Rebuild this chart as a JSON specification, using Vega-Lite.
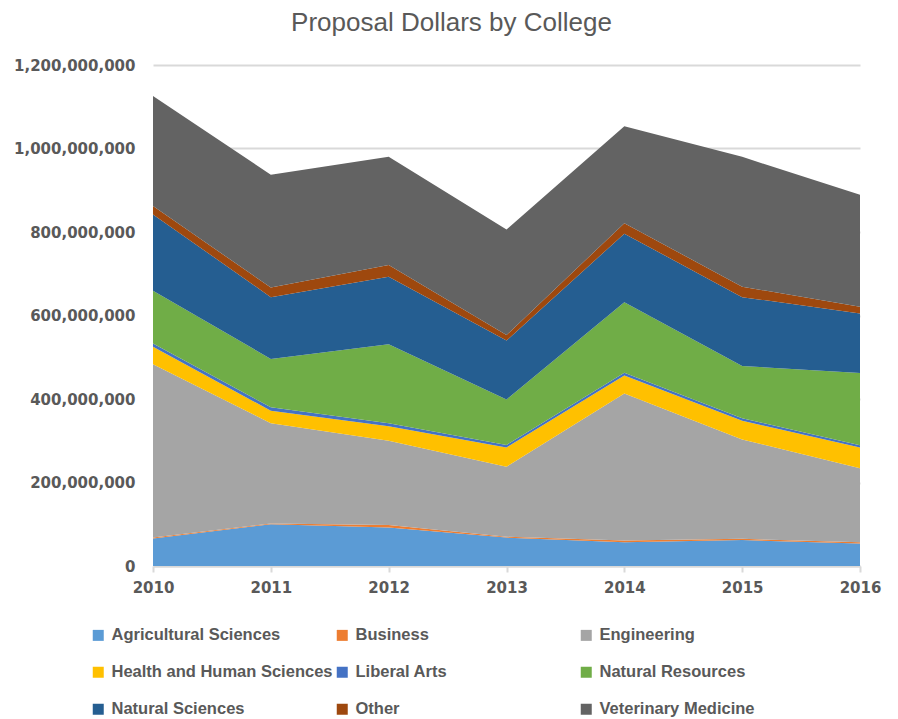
{
  "$schema": "https://vega.github.io/schema/vega-lite/v6.json",
  "width": 707,
  "height": 501,
  "autosize": "none",
  "padding": {"left": 153, "top": 65, "right": 38, "bottom": 153},
  "background": "white",
  "title": {
    "text": "Proposal Dollars by College",
    "font": "Liberation Sans",
    "fontSize": 26,
    "fontWeight": "normal",
    "color": "#595959",
    "offset": 22,
    "dx": -55
  },
  "config": {
    "view": {"stroke": null},
    "font": "Liberation Sans"
  },
  "data": {
    "values": [
      {"year": "2010", "college": "Agricultural Sciences", "dollars": 66000000},
      {"year": "2010", "college": "Business", "dollars": 2000000},
      {"year": "2010", "college": "Engineering", "dollars": 415000000},
      {"year": "2010", "college": "Health and Human Sciences", "dollars": 42000000},
      {"year": "2010", "college": "Liberal Arts", "dollars": 8000000},
      {"year": "2010", "college": "Natural Resources", "dollars": 126000000},
      {"year": "2010", "college": "Natural Sciences", "dollars": 183000000},
      {"year": "2010", "college": "Other", "dollars": 20000000},
      {"year": "2010", "college": "Veterinary Medicine", "dollars": 264000000},
      {"year": "2011", "college": "Agricultural Sciences", "dollars": 100000000},
      {"year": "2011", "college": "Business", "dollars": 2000000},
      {"year": "2011", "college": "Engineering", "dollars": 240000000},
      {"year": "2011", "college": "Health and Human Sciences", "dollars": 30000000},
      {"year": "2011", "college": "Liberal Arts", "dollars": 8000000},
      {"year": "2011", "college": "Natural Resources", "dollars": 116000000},
      {"year": "2011", "college": "Natural Sciences", "dollars": 148000000},
      {"year": "2011", "college": "Other", "dollars": 23000000},
      {"year": "2011", "college": "Veterinary Medicine", "dollars": 270000000},
      {"year": "2012", "college": "Agricultural Sciences", "dollars": 92000000},
      {"year": "2012", "college": "Business", "dollars": 6000000},
      {"year": "2012", "college": "Engineering", "dollars": 202000000},
      {"year": "2012", "college": "Health and Human Sciences", "dollars": 35000000},
      {"year": "2012", "college": "Liberal Arts", "dollars": 7000000},
      {"year": "2012", "college": "Natural Resources", "dollars": 189000000},
      {"year": "2012", "college": "Natural Sciences", "dollars": 162000000},
      {"year": "2012", "college": "Other", "dollars": 28000000},
      {"year": "2012", "college": "Veterinary Medicine", "dollars": 259000000},
      {"year": "2013", "college": "Agricultural Sciences", "dollars": 68000000},
      {"year": "2013", "college": "Business", "dollars": 2000000},
      {"year": "2013", "college": "Engineering", "dollars": 168000000},
      {"year": "2013", "college": "Health and Human Sciences", "dollars": 46000000},
      {"year": "2013", "college": "Liberal Arts", "dollars": 6000000},
      {"year": "2013", "college": "Natural Resources", "dollars": 109000000},
      {"year": "2013", "college": "Natural Sciences", "dollars": 141000000},
      {"year": "2013", "college": "Other", "dollars": 13000000},
      {"year": "2013", "college": "Veterinary Medicine", "dollars": 253000000},
      {"year": "2014", "college": "Agricultural Sciences", "dollars": 57000000},
      {"year": "2014", "college": "Business", "dollars": 4000000},
      {"year": "2014", "college": "Engineering", "dollars": 352000000},
      {"year": "2014", "college": "Health and Human Sciences", "dollars": 43000000},
      {"year": "2014", "college": "Liberal Arts", "dollars": 7000000},
      {"year": "2014", "college": "Natural Resources", "dollars": 169000000},
      {"year": "2014", "college": "Natural Sciences", "dollars": 164000000},
      {"year": "2014", "college": "Other", "dollars": 25000000},
      {"year": "2014", "college": "Veterinary Medicine", "dollars": 232000000},
      {"year": "2015", "college": "Agricultural Sciences", "dollars": 62000000},
      {"year": "2015", "college": "Business", "dollars": 3000000},
      {"year": "2015", "college": "Engineering", "dollars": 238000000},
      {"year": "2015", "college": "Health and Human Sciences", "dollars": 45000000},
      {"year": "2015", "college": "Liberal Arts", "dollars": 6000000},
      {"year": "2015", "college": "Natural Resources", "dollars": 125000000},
      {"year": "2015", "college": "Natural Sciences", "dollars": 165000000},
      {"year": "2015", "college": "Other", "dollars": 25000000},
      {"year": "2015", "college": "Veterinary Medicine", "dollars": 311000000},
      {"year": "2016", "college": "Agricultural Sciences", "dollars": 54000000},
      {"year": "2016", "college": "Business", "dollars": 3000000},
      {"year": "2016", "college": "Engineering", "dollars": 177000000},
      {"year": "2016", "college": "Health and Human Sciences", "dollars": 50000000},
      {"year": "2016", "college": "Liberal Arts", "dollars": 5000000},
      {"year": "2016", "college": "Natural Resources", "dollars": 173000000},
      {"year": "2016", "college": "Natural Sciences", "dollars": 143000000},
      {"year": "2016", "college": "Other", "dollars": 16000000},
      {"year": "2016", "college": "Veterinary Medicine", "dollars": 268000000}
    ]
  },
  "mark": {"type": "area", "interpolate": "linear"},
  "encoding": {
    "x": {
      "field": "year",
      "type": "ordinal",
      "scale": {"type": "point", "padding": 0},
      "axis": {
        "title": null,
        "labelAngle": 0,
        "labelFont": "DejaVu Sans",
        "labelFontWeight": "bold",
        "labelFontSize": 15,
        "labelColor": "#595959",
        "labelPadding": 8,
        "domainColor": "#d9d9d9",
        "domainWidth": 2,
        "tickColor": "#d9d9d9",
        "tickWidth": 2,
        "tickSize": 6,
        "grid": false
      }
    },
    "y": {
      "field": "dollars",
      "type": "quantitative",
      "aggregate": "sum",
      "stack": "zero",
      "scale": {"domain": [0, 1200000000], "nice": false},
      "axis": {
        "title": null,
        "values": [0, 200000000, 400000000, 600000000, 800000000, 1000000000, 1200000000],
        "format": ",.0f",
        "labelFont": "DejaVu Sans",
        "labelFontWeight": "bold",
        "labelFontSize": 15,
        "labelColor": "#595959",
        "labelPadding": 18,
        "domain": false,
        "ticks": false,
        "grid": true,
        "gridColor": "#d9d9d9",
        "gridWidth": 2
      }
    },
    "color": {
      "field": "college",
      "type": "nominal",
      "scale": {
        "domain": ["Agricultural Sciences", "Health and Human Sciences", "Natural Sciences", "Business", "Liberal Arts", "Other", "Engineering", "Natural Resources", "Veterinary Medicine"],
        "range": ["#5B9BD5", "#FFC000", "#255E91", "#ED7D31", "#4472C4", "#9E480E", "#A5A5A5", "#70AD47", "#636363"]
      },
      "legend": {
        "title": null,
        "orient": "none",
        "legendX": -63,
        "legendY": 562,
        "columns": 3,
        "gridAlign": "all",
        "columnPadding": 1,
        "rowPadding": 20,
        "symbolType": "square",
        "symbolSize": 121,
        "symbolStrokeWidth": 0,
        "labelFont": "Liberation Sans",
        "labelFontWeight": "bold",
        "labelFontSize": 16.5,
        "labelColor": "#595959",
        "labelOffset": 5,
        "labelLimit": 300
      }
    },
    "order": {"field": "college", "sort": "ascending"}
  }
}
